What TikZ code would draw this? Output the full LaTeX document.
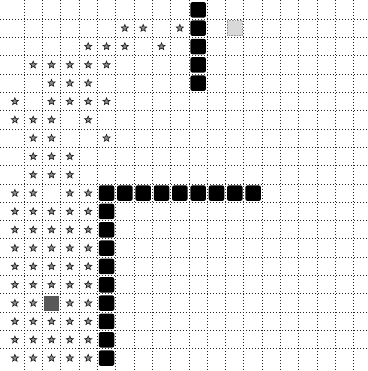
\documentclass[tikz,border=0pt]{standalone}
\usetikzlibrary{shapes.geometric}
\begin{document}
\begin{tikzpicture}[x=1pt,y=-1pt,
  gridline/.style={black!85, dash pattern=on 1.2pt off 1.8pt, line width=1pt},
  wall/.style={rectangle, fill=black, rounded corners=2pt, minimum size=15.5pt, inner sep=0pt},
  goal/.style={rectangle, fill=black!15, draw=black!40, densely dotted, line width=0.6pt, minimum size=15pt, inner sep=0pt},
  agent/.style={rectangle, fill=black!65, minimum size=15pt, inner sep=0pt},
  starmark/.style={star, star points=5, star point ratio=2.3, minimum size=7.5pt, inner sep=0pt, fill=black!45, draw=black!90, line width=0.6pt}
]
\def\s{18.33}
\def\ox{5.7}
\def\oy{0.7}
\useasboundingbox (0,0) rectangle (367,371);
\fill[white] (0,0) rectangle (367,371);
% grid
\foreach \k in {1,...,19} {\draw[gridline] ({\ox+\s*\k},0) -- ({\ox+\s*\k},371);}
\foreach \j in {1,...,19} {\draw[gridline] (0,{\oy+\s*\j}) -- (367,{\oy+\s*\j});}
% walls: top column
\foreach \r in {0,...,4} {\node[wall] (wt-\r) at ({\ox+\s*10.5},{\oy+\s*(\r+0.5)}) {};}
% walls: horizontal row
\foreach \c in {5,...,13} {\node[wall] (wh-\c) at ({\ox+\s*(\c+0.5)},{\oy+\s*10.5}) {};}
% walls: vertical column
\foreach \r in {11,...,19} {\node[wall] (wv-\r) at ({\ox+\s*5.5},{\oy+\s*(\r+0.5)}) {};}
% goal and agent
\node[goal] (goal) at ({\ox+\s*12.5},{\oy+\s*1.5}) {};
\node[agent] (agent) at ({\ox+\s*2.5},{\oy+\s*16.5}) {};
% stars (column/row pairs)
\foreach \c/\r in {6/1,7/1,9/1,
  4/2,5/2,6/2,8/2,
  1/3,2/3,3/3,4/3,5/3,
  2/4,3/4,4/4,
  0/5,2/5,3/5,4/5,5/5,
  0/6,1/6,2/6,4/6,
  1/7,2/7,5/7,
  1/8,2/8,3/8,
  1/9,2/9,3/9,
  0/10,1/10,3/10,4/10,
  0/16,1/16,3/16,4/16} {
  \node[starmark] (s-\c-\r) at ({\ox+\s*(\c+0.5)},{\oy+\s*(\r+0.5)}) {};
}
\foreach \r in {11,...,15,17,18,19} {
  \foreach \c in {0,...,4} {
    \node[starmark] (s-\c-\r) at ({\ox+\s*(\c+0.5)},{\oy+\s*(\r+0.5)}) {};
  }
}
\end{tikzpicture}
\end{document}
